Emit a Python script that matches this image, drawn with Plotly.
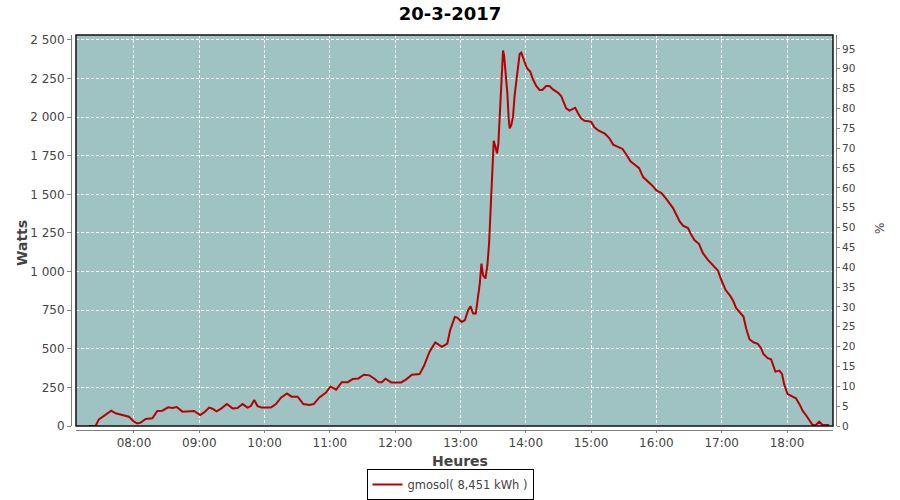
import plotly.graph_objects as go

# ---- data ----
day = "2017-03-20"
times = [
    "07:18:34", "07:24:42", "07:27:46", "07:32:23", "07:39:08", "07:43:08", "07:50:48", "07:55:24",
    "08:00:00", "08:03:04", "08:06:08", "08:10:44", "08:16:53", "08:21:29", "08:26:05", "08:31:18",
    "08:35:18", "08:39:17", "08:44:30", "08:50:38", "08:55:14", "09:00:46", "09:04:27", "09:09:03",
    "09:12:07", "09:15:48", "09:20:24", "09:25:19", "09:30:32", "09:35:08", "09:39:44", "09:44:21",
    "09:47:25", "09:50:29", "09:53:33", "09:57:14", "10:05:50", "10:10:26", "10:15:02", "10:20:34",
    "10:24:51", "10:30:23", "10:35:36", "10:41:08", "10:45:07", "10:50:20", "10:56:28", "11:00:28",
    "11:05:41", "11:10:54", "11:16:25", "11:21:01", "11:26:14", "11:31:08", "11:36:21", "11:40:57",
    "11:44:38", "11:47:42", "11:51:05", "11:56:18", "12:05:31", "12:10:07", "12:15:20", "12:22:23",
    "12:26:23", "12:31:36", "12:36:49", "12:42:57", "12:47:52", "12:50:30", "12:54:48", "12:56:57",
    "13:00:55", "13:03:58", "13:07:01", "13:09:10", "13:11:36", "13:14:03", "13:16:11", "13:17:42",
    "13:19:14", "13:20:46", "13:22:54", "13:24:44", "13:26:15", "13:27:29", "13:28:24", "13:29:19",
    "13:30:32", "13:32:04", "13:33:35", "13:34:48", "13:36:02", "13:37:33", "13:39:05", "13:40:00",
    "13:41:13", "13:43:03", "13:44:16", "13:45:11", "13:46:43", "13:48:14", "13:49:46", "13:51:17",
    "13:52:49", "13:54:20", "13:55:52", "13:58:00", "14:00:27", "14:01:58", "14:04:06", "14:06:33",
    "14:09:36", "14:12:40", "14:15:06", "14:18:46", "14:21:49", "14:24:52", "14:29:27", "14:32:30",
    "14:34:38", "14:37:05", "14:40:08", "14:42:35", "14:45:20", "14:47:46", "14:50:49", "14:53:52",
    "15:00:00", "15:03:03", "15:07:01", "15:12:40", "15:16:38", "15:20:18", "15:24:54", "15:28:51",
    "15:32:31", "15:36:11", "15:40:09", "15:44:07", "15:47:47", "15:52:22", "15:56:20", "16:00:00",
    "16:04:35", "16:08:33", "16:12:13", "16:15:16", "16:18:19", "16:21:22", "16:24:25", "16:29:00",
    "16:32:03", "16:35:07", "16:39:05", "16:42:44", "16:47:19", "16:51:54", "16:56:29", "16:59:32",
    "17:03:30", "17:07:47", "17:10:50", "17:13:17", "17:16:20", "17:19:59", "17:22:26", "17:25:29",
    "17:29:09", "17:33:07", "17:36:10", "17:38:18", "17:42:17", "17:45:20", "17:49:18", "17:52:58",
    "17:55:24", "17:57:32", "18:00:35", "18:04:33", "18:08:13", "18:11:17", "18:14:20", "18:18:00",
    "18:21:03", "18:23:29", "18:26:32", "18:29:35", "18:32:38", "18:38:45",
]
watts = [
    0, 0, 43, 65, 99, 82, 71, 60,
    28, 17, 22, 45, 50, 97, 99, 121,
    116, 123, 93, 97, 97, 71, 88, 119,
    112, 95, 114, 142, 114, 116, 142, 119,
    129, 168, 129, 119, 119, 142, 183, 211,
    190, 190, 142, 136, 142, 185, 216, 256,
    235, 284, 284, 304, 308, 332, 328, 306,
    284, 284, 306, 282, 282, 302, 332, 336,
    388, 481, 541, 513, 534, 621, 706, 702,
    674, 685, 750, 776, 728, 728, 825, 922,
    1052, 976, 955, 1041, 1182, 1365, 1560, 1711,
    1847, 1808, 1765, 1830, 1992, 2241, 2431, 2403,
    2306, 2154, 1992, 1927, 1949, 2003, 2143, 2241,
    2349, 2409, 2418, 2375, 2327, 2310, 2295, 2245,
    2202, 2176, 2176, 2202, 2202, 2180, 2159, 2137,
    2100, 2057, 2042, 2050, 2061, 2029, 1992, 1977,
    1971, 1934, 1912, 1893, 1865, 1822, 1807, 1794,
    1757, 1714, 1692, 1670, 1612, 1584, 1556, 1526,
    1508, 1476, 1444, 1411, 1368, 1325, 1297, 1282,
    1238, 1202, 1180, 1119, 1076, 1044, 1007, 947,
    882, 843, 806, 763, 737, 709, 633, 562,
    542, 532, 504, 467, 439, 432, 352, 359,
    337, 266, 207, 194, 179, 143, 99, 65,
    35, 6, 6, 28, 6, 6,
]
series_name = "gmosol( 8,451 kWh )"
chart_title = "20-3-2017"
y_left_ticks = [0, 250, 500, 750, 1000, 1250, 1500, 1750, 2000, 2250, 2500]
y_right_ticks = [0, 5, 10, 15, 20, 25, 30, 35, 40, 45, 50, 55, 60, 65, 70, 75, 80, 85, 90, 95]

x_vals = [f"{day} {t}" for t in times]

# Figure is placed at the page origin (body margin removed).
W, H = 900, 500


def px(x):
    return x / W


def py(y):
    return 1 - y / H


# plot area in window pixels
PL, PR, PT, PB = 76, 833, 35, 426
xd = [px(PL), px(PR)]
yd = [py(PB), py(PT)]

BG = "#9ec3c2"
RED = "#b80000"
AX = "#808080"
TXT = "#444444"

fig = go.Figure()
fig.add_trace(go.Scatter(
    x=x_vals, y=watts, mode="lines", name=series_name,
    line=dict(color=RED, width=2), showlegend=True,
))
# invisible trace on the right axis so it is drawn
fig.add_trace(go.Scatter(x=[x_vals[0]], y=[0], yaxis="y2", mode="lines",
                         line=dict(width=0), showlegend=False, hoverinfo="skip"))

fig.update_layout(
    width=W, height=H,
    margin=dict(l=0, r=0, t=0, b=0, pad=0, autoexpand=False),
    paper_bgcolor="white", plot_bgcolor=BG,
    separators=", ",
    font=dict(family="DejaVu Sans", size=11, color=TXT),
    title=dict(text=f"<b>{chart_title}</b>", x=px(450), xanchor="center",
               xref="paper", yref="paper",
               y=py(14), yanchor="middle",
               font=dict(family="DejaVu Sans", size=18, color="black")),
    xaxis=dict(
        domain=xd, anchor="free", position=py(430),
        type="date",
        range=[f"{day} 07:06:43", f"{day} 18:42:15"],
        tick0=f"{day} 08:00", dtick=3600000, tickformat="%H:%M",
        showgrid=True, gridcolor="white", griddash="3px,2px", gridwidth=1,
        showline=True, linecolor=AX, linewidth=1,
        ticks="outside", ticklen=2, tickcolor=AX,
        tickfont=dict(size=12, color=TXT), zeroline=False,
    ),
    yaxis=dict(
        domain=yd, anchor="free", position=px(71),
        range=[0, 2532], tickvals=y_left_ticks, tickformat=",d",
        showgrid=True, gridcolor="white", griddash="3px,2px", gridwidth=1,
        showline=True, linecolor=AX, linewidth=1,
        ticks="outside", ticklen=4, tickcolor=AX,
        tickfont=dict(size=12, color=TXT), zeroline=False,
    ),
    yaxis2=dict(
        domain=yd, overlaying="y", side="right", anchor="free", position=px(836),
        range=[0, 98.5], tickvals=y_right_ticks,
        showgrid=False, showline=True, linecolor=AX, linewidth=1,
        ticks="outside", ticklen=3, tickcolor=AX,
        tickfont=dict(size=10.5, color=TXT), zeroline=False,
    ),
    legend=dict(
        x=px(450), xanchor="center", y=py(500), yanchor="bottom",
        orientation="h", bordercolor="black", borderwidth=1, bgcolor="white",
        font=dict(size=11.5, color=TXT), itemwidth=30,
    ),
    shapes=[dict(type="rect", xref="paper", yref="paper",
                 x0=xd[0], x1=xd[1], y0=yd[0], y1=yd[1],
                 line=dict(color="#111111", width=1.5), layer="above")],
    annotations=[
        dict(text="<b>Watts</b>", x=px(22), y=py(243), xref="paper", yref="paper",
             xanchor="center", yanchor="middle",
             textangle=-90, showarrow=False, font=dict(size=14, color=TXT)),
        dict(text="<b>Heures</b>", x=px(460), y=py(461), xref="paper", yref="paper",
             xanchor="center", yanchor="middle",
             showarrow=False, font=dict(size=14, color=TXT)),
        dict(text="%", x=px(880), y=py(229), xref="paper", yref="paper",
             xanchor="center", yanchor="middle",
             textangle=-90, showarrow=False, font=dict(size=12, color=TXT)),
    ],
)

fig.write_html(
    "out.html",
    config={"displayModeBar": False},
    post_script="document.body.style.margin='0';"
                "document.documentElement.style.overflow='hidden';"
                "document.body.style.overflow='hidden';",
)
